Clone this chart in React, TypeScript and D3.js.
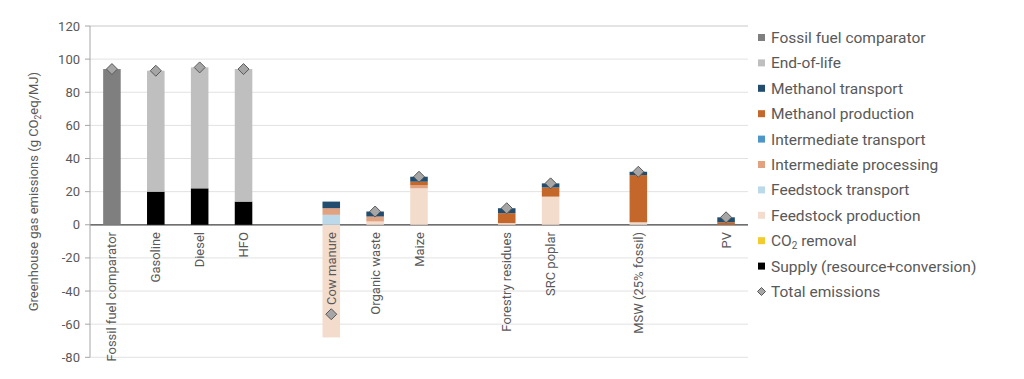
import React from "react";
import * as d3 from "d3";

const categories = ["Fossil fuel comparator", "Gasoline", "Diesel", "HFO", "", "Cow manure", "Organic waste", "Maize", "", "Forestry residues", "SRC poplar", "", "MSW (25% fossil)", "", "PV"];

const supply = [0, 20, 22, 14, 0, 0, 0, 0, 0, 0, 0, 0, 0, 0, 0];
const co2Removal = [0, 0, 0, 0, 0, 0, 0, 0, 0, 0, 0, 0, 0, 0, 0];
const feedstockProduction = [0, 0, 0, 0, 0, -68, 2, 22, 0, 1, 17, 0, 1.5, 0, 0];
const feedstockTransport = [0, 0, 0, 0, 0, 6, 0, 0, 0, 0, 0, 0, 0, 0, 0];
const intermediateProcessing = [0, 0, 0, 0, 0, 4, 3, 2, 0, 0, 0, 0, 0, 0, 0];
const intermediateTransport = [0, 0, 0, 0, 0, 0, 0, 0, 0, 0, 0, 0, 0, 0, 0];
const methanolProduction = [0, 0, 0, 0, 0, 0, 0, 2, 0, 6, 5.5, 0, 28.5, 0, 1.5];
const methanolTransport = [0, 0, 0, 0, 0, 4, 3, 3, 0, 3, 2.5, 0, 2, 0, 3];
const endOfLife = [0, 73, 73, 80, 0, 0, 0, 0, 0, 0, 0, 0, 0, 0, 0];
const fossilComparator = [94, 0, 0, 0, 0, 0, 0, 0, 0, 0, 0, 0, 0, 0, 0];

const yTicks = [-80, -60, -40, -20, 0, 20, 40, 60, 80, 100, 120];

const series = [
  { key: "supply", label: "Supply (resource+conversion)", color: "#000000", values: supply },
  { key: "co2", label: "CO2 removal", color: "#f2cc2e", values: co2Removal },
  { key: "fp", label: "Feedstock production", color: "#f4dccd", values: feedstockProduction },
  { key: "ft", label: "Feedstock transport", color: "#bcd9ea", values: feedstockTransport },
  { key: "ip", label: "Intermediate processing", color: "#e3a27f", values: intermediateProcessing },
  { key: "it", label: "Intermediate transport", color: "#4f96c8", values: intermediateTransport },
  { key: "mp", label: "Methanol production", color: "#c4672a", values: methanolProduction },
  { key: "mt", label: "Methanol transport", color: "#224d6e", values: methanolTransport },
  { key: "eol", label: "End-of-life", color: "#bfbfbf", values: endOfLife },
  { key: "ffc", label: "Fossil fuel comparator", color: "#7f7f7f", values: fossilComparator },
];

const legendOrder = ["ffc", "eol", "mt", "mp", "it", "ip", "ft", "fp", "co2", "supply"];

const FONT = "Roboto, 'Noto Sans', sans-serif";
const TEXT = "#595959";

export default function App() {
  const W = 1024, H = 379;
  const x0 = 90, x1 = 748, yTop = 26, yBot = 357.3;
  const idx = d3.range(categories.length);
  const x = d3.scaleBand<number>().domain(idx).range([x0, x1]).paddingInner(0.6).paddingOuter(0.3);
  const y = d3.scaleLinear().domain([-80, 120]).range([yBot, yTop]);

  const rows = idx.map((i) => {
    const r: any = { i };
    series.forEach((s) => (r[s.key] = s.values[i]));
    return r;
  });
  const stack = d3.stack<any>().keys(series.map((s) => s.key)).offset(d3.stackOffsetDiverging);
  const stacked = stack(rows);
  const totals = idx.map((i) => series.reduce((a, s) => a + s.values[i], 0));

  const diamond = (cx: number, cy: number, r: number) =>
    `M${cx},${cy - r}L${cx + r},${cy}L${cx},${cy + r}L${cx - r},${cy}Z`;

  return (
    <svg width={W} height={H} style={{ position: "absolute", left: 0, top: 0, background: "#fff" }} fontFamily={FONT}>
      {yTicks.map((t) => (
        <g key={t}>
          <line x1={x0} x2={x1} y1={y(t)} y2={y(t)} stroke={t === 0 ? "#404040" : t === 120 ? "#c8c8c8" : "#e2e2e2"} strokeWidth={t === 0 ? 1.2 : 1} />
          <line x1={x0 - 5} x2={x0} y1={y(t)} y2={y(t)} stroke="#a6a6a6" />
          <text x={x0 - 10} y={y(t)} dy="0.35em" textAnchor="end" fontSize={13} fill={TEXT}>{t}</text>
        </g>
      ))}
      <line x1={x0} x2={x0} y1={yTop} y2={yBot} stroke="#a6a6a6" />
      {stacked.map((layer, li) => (
        <g key={series[li].key} fill={series[li].color}>
          {layer.map((d, i) =>
            d[1] - d[0] === 0 ? null : (
              <rect key={i} x={x(i)} width={x.bandwidth()} y={y(Math.max(d[0], d[1]))} height={Math.abs(y(d[0]) - y(d[1]))} />
            )
          )}
        </g>
      ))}
      {idx.map((i) =>
        categories[i] ? (
          <text key={i} transform={`translate(${x(i)! + x.bandwidth() / 2},232) rotate(-90)`} textAnchor="end" dy="0.35em" fontSize={13} fill={TEXT}>
            {categories[i]}
          </text>
        ) : null
      )}
      {idx.map((i) =>
        categories[i] ? (
          <path key={i} d={diamond(x(i)! + x.bandwidth() / 2, y(totals[i]), 5.5)} fill="#a6a6a6" stroke="#595959" strokeWidth={1} />
        ) : null
      )}
      <text transform={`translate(33,${(yTop + yBot) / 2}) rotate(-90)`} textAnchor="middle" dy="0.35em" fontSize={13} fill={TEXT}>
        Greenhouse gas emissions (g CO<tspan fontSize={8.5} dy="3">2</tspan><tspan dy="-3">eq/MJ)</tspan>
      </text>
      <g>
        {legendOrder.map((k, j) => {
          const s = series.find((q) => q.key === k)!;
          const ly = 37.5 + j * 25.4;
          return (
            <g key={k}>
              <rect x={758} y={ly - 3.5} width={7} height={7} fill={s.color} />
              <text x={771} y={ly} dy="0.35em" fontSize={15.5} fill={TEXT}>
                {k === "co2" ? (
                  <>
                    CO<tspan fontSize={10} dy="3">2</tspan><tspan dy="-3"> removal</tspan>
                  </>
                ) : (
                  s.label
                )}
              </text>
            </g>
          );
        })}
        <path d={diamond(761.5, 37.5 + 10 * 25.4, 4)} fill="#a6a6a6" stroke="#595959" />
        <text x={771} y={37.5 + 10 * 25.4} dy="0.35em" fontSize={15.5} fill={TEXT}>Total emissions</text>
      </g>
    </svg>
  );
}
